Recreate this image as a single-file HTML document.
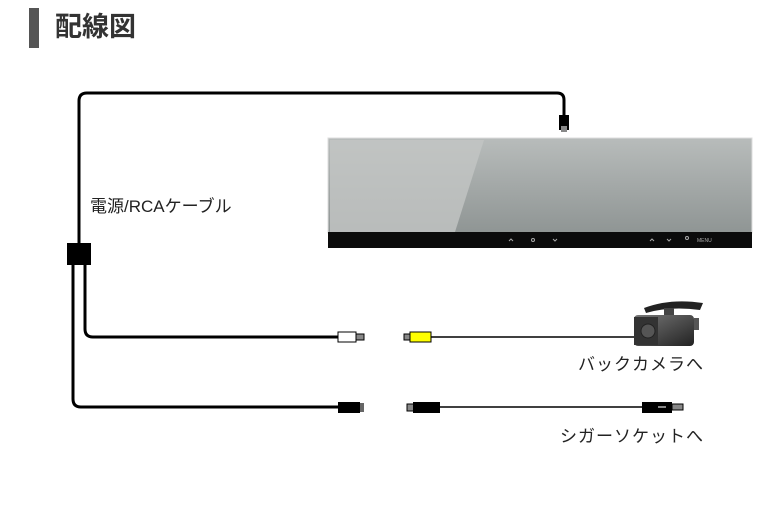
<!DOCTYPE html>
<html><head><meta charset="utf-8"><style>
body{margin:0;width:770px;height:517px;background:#fff;position:relative;overflow:hidden;font-family:"Liberation Sans","Noto Sans CJK JP",sans-serif}
.t{position:absolute;color:#222}
</style></head><body>
<div style="position:absolute;left:29px;top:8px;width:10px;height:40px;background:#555"></div>
<div class="t" style="left:55px;top:9px;font-size:27px;font-weight:bold;color:#333;line-height:36px">配線図</div>
<svg width="770" height="517" style="position:absolute;left:0;top:0">
<defs>
<linearGradient id="m" x1="0" y1="0" x2="0" y2="1"><stop offset="0" stop-color="#b8bcbb"/><stop offset="1" stop-color="#8f9594"/></linearGradient>
<linearGradient id="cam" x1="0" y1="0" x2="1" y2="1"><stop offset="0" stop-color="#777"/><stop offset="1" stop-color="#222"/></linearGradient>
</defs>
<g fill="none" stroke="#000" stroke-width="3">
<path d="M79,245 V101 Q79,93 87,93 H557 Q564,93 564,100 V116"/>
<path d="M85,262 V329 Q85,337 93,337 H340"/>
<path d="M73,262 V399 Q73,407 81,407 H340"/>
</g>
<rect x="67" y="243" width="24" height="22" fill="#000"/>
<rect x="559" y="115" width="10" height="15" fill="#000"/>
<rect x="561" y="126" width="6" height="6" fill="#888"/>
<rect x="328" y="138" width="424" height="95" fill="url(#m)" stroke="#ddd"/>
<path d="M330,140 H484 L455,232 H330 Z" fill="#c3c6c4" opacity=".8"/>
<rect x="328" y="232" width="424" height="16" fill="#0b0b0b"/>
<g fill="none" stroke="#aaa" stroke-width="1">
<path d="M509,241 l2,-2 l2,2"/><circle cx="533" cy="240" r="1.5"/><path d="M553,239 l2,2 l2,-2"/>
<path d="M650,241 l2,-2 l2,2"/><path d="M667,239 l2,2 l2,-2"/><circle cx="687" cy="238" r="1.5"/>
</g>
<text x="697" y="242" font-size="5" fill="#aaa">MENU</text>
<rect x="338" y="332" width="18" height="10" fill="#fff" stroke="#000" stroke-width="1"/>
<rect x="356" y="334" width="8" height="6" fill="#888" stroke="#000" stroke-width="1"/>
<rect x="404" y="334" width="7" height="6" fill="#888" stroke="#000" stroke-width="1"/>
<rect x="410" y="332" width="21" height="10" fill="#ff0" stroke="#000" stroke-width="1"/>
<line x1="431" y1="337" x2="636" y2="337" stroke="#000" stroke-width="1.5"/>
<path d="M644,308 Q670,298 703,303 L700,310 Q670,306 646,313 Z" fill="#222"/>
<rect x="664" y="308" width="10" height="8" fill="#444"/>
<rect x="634" y="315" width="60" height="31" rx="4" fill="url(#cam)"/>
<rect x="634" y="317" width="24" height="28" fill="#333"/>
<circle cx="648" cy="331" r="7" fill="#555" stroke="#222"/>
<rect x="694" y="318" width="5" height="12" fill="#555"/>
<rect x="338" y="402" width="22" height="11" fill="#000"/>
<rect x="360" y="403" width="4" height="9" fill="#666"/>
<rect x="407" y="404" width="7" height="7" fill="#888" stroke="#000" stroke-width="1"/>
<rect x="413" y="402" width="27" height="11" fill="#000"/>
<line x1="440" y1="407" x2="642" y2="407" stroke="#000" stroke-width="1.5"/>
<rect x="642" y="402" width="30" height="11" fill="#000"/>
<rect x="658" y="406" width="8" height="2" fill="#888"/>
<rect x="672" y="404" width="11" height="6" fill="#888" stroke="#000" stroke-width="1"/>
</svg>
<div class="t" style="left:90px;top:196px;font-size:17px;line-height:22px">電源/RCAケーブル</div>
<div class="t" style="left:578px;top:354px;font-size:17px;line-height:22px;letter-spacing:1px">バックカメラへ</div>
<div class="t" style="left:560px;top:426px;font-size:17px;line-height:22px;letter-spacing:1px">シガーソケットへ</div>
</body></html>
